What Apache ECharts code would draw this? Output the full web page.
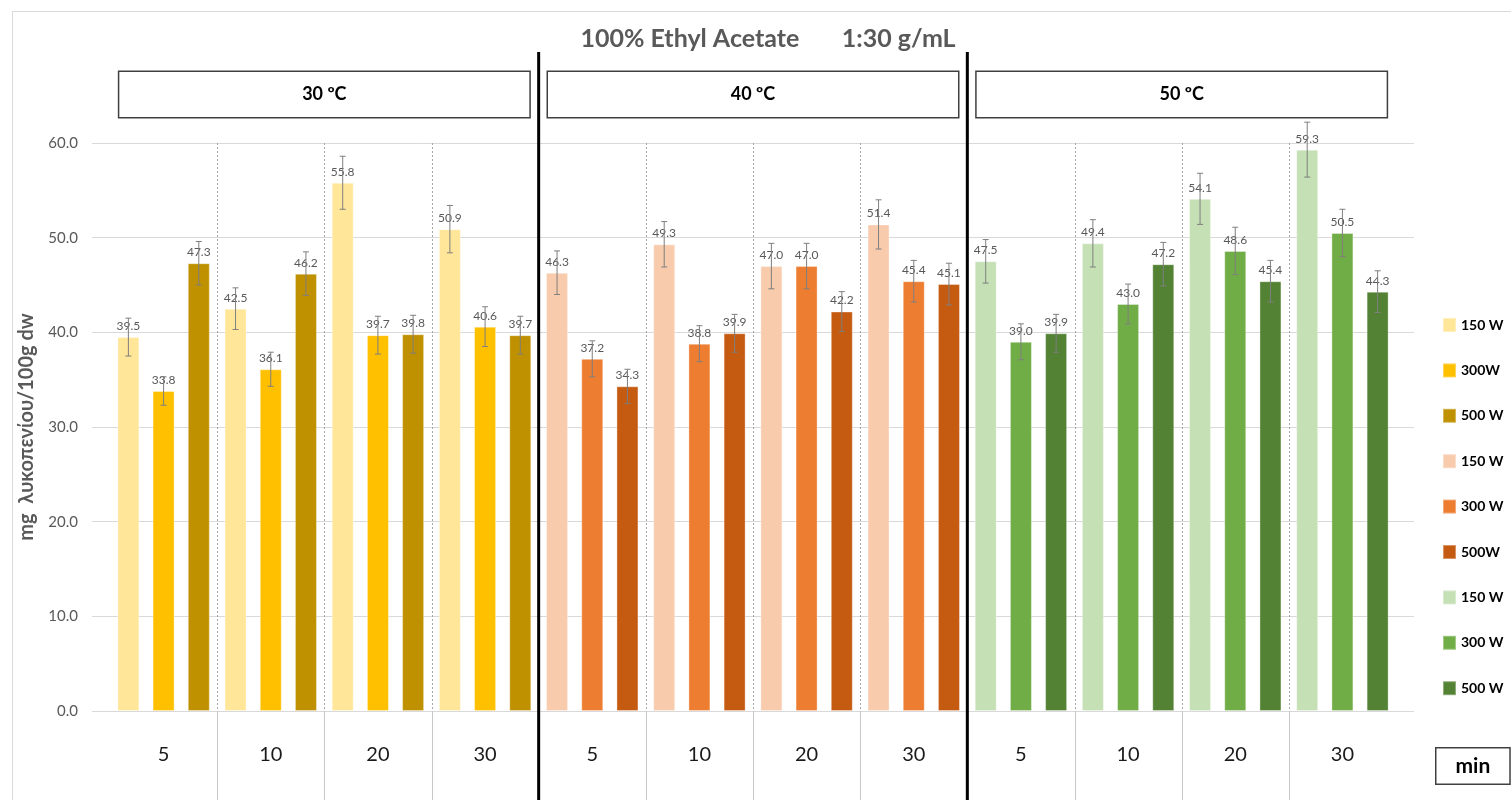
<!DOCTYPE html>
<html>
<head>
<meta charset="utf-8">
<title>100% Ethyl Acetate 1:30 g/mL</title>
<script src="https://cdn.jsdelivr.net/npm/echarts@6/dist/echarts.min.js"></script>
<style>
  html, body { margin: 0; padding: 0; background: #fff; }
  #chart { width: 1511px; height: 800px; }
</style>
</head>
<body>
<div id="chart"></div>
<script>
// Extraction time (min), repeated under each temperature
const minutes = ['5', '10', '20', '30'];
const temperatures = ['30 ºC', '40 ºC', '50 ºC'];
const powers = ['150 W', '300 W', '500 W'];
const legendLabels = ['150 W', '300W', '500 W', '150 W', '300 W', '500W', '150 W', '300 W', '500 W'];

// Lycopene, mg / 100 g dw (values for 5, 10, 20, 30 min)
const t30_150 = [39.5, 42.5, 55.8, 50.9];
const t30_300 = [33.8, 36.1, 39.7, 40.6];
const t30_500 = [47.3, 46.2, 39.8, 39.7];
const t40_150 = [46.3, 49.3, 47.0, 51.4];
const t40_300 = [37.2, 38.8, 47.0, 45.4];
const t40_500 = [34.3, 39.9, 42.2, 45.1];
const t50_150 = [47.5, 49.4, 54.1, 59.3];
const t50_300 = [39.0, 43.0, 48.6, 50.5];
const t50_500 = [39.9, 47.2, 45.4, 44.3];

// Standard deviations
const e30_150 = [2.0, 2.2, 2.8, 2.5];
const e30_300 = [1.5, 1.8, 2.0, 2.1];
const e30_500 = [2.3, 2.3, 2.0, 2.0];
const e40_150 = [2.3, 2.4, 2.4, 2.6];
const e40_300 = [1.9, 1.9, 2.4, 2.2];
const e40_500 = [1.8, 2.0, 2.1, 2.2];
const e50_150 = [2.3, 2.5, 2.7, 2.9];
const e50_300 = [1.9, 2.1, 2.5, 2.5];
const e50_500 = [2.0, 2.3, 2.2, 2.2];

const yTicks = { min: 0, max: 60, interval: 10 };

const palette = [
  ['#FFE699', '#FFC000', '#BF9000'],
  ['#F8CBAD', '#ED7D31', '#C55A11'],
  ['#C5E0B4', '#70AD47', '#548235']
];

const values = [[t30_150, t30_300, t30_500], [t40_150, t40_300, t40_500], [t50_150, t50_300, t50_500]];
const errors = [[e30_150, e30_300, e30_500], [e40_150, e40_300, e40_500], [e50_150, e50_300, e50_500]];

const FONT = 'Lato, "Noto Sans", "DejaVu Sans", sans-serif';
const BAR_W = 22;
const BAR_GAP = 0.6;

const categories = [];
temperatures.forEach(() => minutes.forEach(m => categories.push(m)));
const perTemp = minutes.length;

const seriesNames = [];
const barSeries = [];
const errData = [];
temperatures.forEach((temp, ti) => {
  powers.forEach((pw, pi) => {
    const name = temp + '|' + pw;
    seriesNames.push(name);
    const data = categories.map(() => '-');
    values[ti][pi].forEach((v, k) => {
      data[ti * perTemp + k] = v;
      errData.push([ti * perTemp + k, v, errors[ti][pi][k], pi]);
    });
    barSeries.push({
      name: name,
      type: 'bar',
      xAxisIndex: 1,
      yAxisIndex: 1,
      stack: 'p' + pi,
      barWidth: BAR_W,
      barGap: (BAR_GAP * 100) + '%',
      data: data,
      itemStyle: { color: palette[ti][pi], borderColor: 'rgba(255,255,255,0.35)', borderWidth: 1 },
      label: {
        show: true,
        position: 'top',
        distance: 5,
        fontFamily: FONT,
        fontSize: 12,
        color: '#595959',
        formatter: p => Number(p.value).toFixed(1)
      },
      z: 3
    });
  });
});

const errorSeries = {
  type: 'custom',
  name: 'sd',
  xAxisIndex: 1,
  yAxisIndex: 1,
  data: errData,
  z: 4,
  silent: true,
  renderItem: function (params, api) {
    const idx = api.value(0);
    const v = api.value(1);
    const e = api.value(2);
    const slot = api.value(3);
    const shift = (slot - 1) * BAR_W * (1 + BAR_GAP);
    const hi = api.coord([idx, v + e]);
    const lo = api.coord([idx, v - e]);
    const x = hi[0] + shift;
    const cap = 3;
    const style = { stroke: '#7f7f7f', lineWidth: 1, fill: null };
    return {
      type: 'group',
      children: [
        { type: 'line', shape: { x1: x, y1: hi[1], x2: x, y2: lo[1] }, style: style },
        { type: 'line', shape: { x1: x - cap, y1: hi[1], x2: x + cap, y2: hi[1] }, style: style },
        { type: 'line', shape: { x1: x - cap, y1: lo[1], x2: x + cap, y2: lo[1] }, style: style }
      ]
    };
  }
};

// Boundaries between time groups inside each temperature block
const innerBoundaries = categories.map((c, i) => i).filter(i => i % perTemp !== 0);
// Boundaries between temperature blocks
const blockBoundaries = temperatures.map((t, i) => i).filter(i => i > 0);

// Left edge of a category band
function bandStart(api, idx) {
  return api.coord([idx, 0])[0] - api.size([1, 0])[0] / 2;
}

const innerDividers = {
  type: 'custom',
  name: 'time dividers',
  xAxisIndex: 1,
  yAxisIndex: 1,
  data: innerBoundaries.map(i => [i]),
  silent: true,
  clip: false,
  z: 1,
  renderItem: function (params, api) {
    const cs = params.coordSys;
    const x = Math.round(bandStart(api, api.value(0))) + 0.5;
    const base = cs.y + cs.height;
    return {
      type: 'group',
      children: [
        { type: 'line', shape: { x1: x, y1: cs.y, x2: x, y2: base },
          style: { stroke: '#a6a6a6', lineWidth: 1, lineDash: [2, 2] } },
        { type: 'line', shape: { x1: x, y1: base, x2: x, y2: api.getHeight() },
          style: { stroke: '#c8c8c8', lineWidth: 1 } }
      ]
    };
  }
};

const blockDividers = {
  type: 'custom',
  name: 'temperature dividers',
  xAxisIndex: 2,
  yAxisIndex: 2,
  data: blockBoundaries.map(i => [i]),
  silent: true,
  clip: false,
  z: 5,
  renderItem: function (params, api) {
    const cs = params.coordSys;
    const x = bandStart(api, api.value(0));
    return {
      type: 'line',
      shape: { x1: x, y1: cs.y, x2: x, y2: cs.y + cs.height },
      style: { stroke: '#000', lineWidth: 3 }
    };
  }
};

const option = {
  animation: false,
  backgroundColor: '#fff',
  textStyle: { fontFamily: FONT },
  title: {
    text: '100% Ethyl Acetate       1:30 g/mL',
    left: 763,
    textAlign: 'center',
    top: 21,
    textStyle: { fontFamily: FONT, fontSize: 25, fontWeight: 'bold', color: '#595959' }
  },
  legend: {
    orient: 'vertical',
    left: 1437,
    top: 312,
    icon: 'rect',
    itemWidth: 13,
    itemHeight: 14,
    itemGap: 29.4,
    data: seriesNames,
    formatter: name => legendLabels[seriesNames.indexOf(name)],
    textStyle: { fontFamily: FONT, fontSize: 14, fontWeight: 'bold', color: '#000' },
    selectedMode: false
  },
  grid: [
    { left: 92, right: 97, top: 143, height: 568 },
    { left: 110, right: 115, top: 143, height: 568 },
    { left: 110, right: 115, top: 52, bottom: 0 }
  ],
  xAxis: [
    { type: 'value', gridIndex: 0, show: false, min: 0, max: 1 },
    {
      type: 'category',
      gridIndex: 1,
      data: categories,
      axisLine: { show: false },
      axisTick: { show: false },
      splitLine: { show: false },
      axisLabel: {
        interval: 0,
        margin: 34,
        fontFamily: FONT,
        fontSize: 20,
        color: '#1a1a1a'
      }
    },
    {
      type: 'category',
      gridIndex: 2,
      position: 'top',
      data: temperatures,
      axisLine: { show: false },
      axisTick: { show: false },
      splitLine: { show: false },
      axisLabel: {
        inside: true,
        interval: 0,
        margin: 20,
        fontFamily: FONT,
        fontSize: 18,
        fontWeight: 'bold',
        color: '#000',
        width: 410,
        height: 45,
        lineHeight: 45,
        align: 'center',
        backgroundColor: '#fff',
        borderColor: '#404040',
        borderWidth: 1.5
      }
    }
  ],
  yAxis: [
    {
      type: 'value',
      gridIndex: 0,
      min: yTicks.min,
      max: yTicks.max,
      interval: yTicks.interval,
      name: 'mg  λυκοπενίου/100g dw',
      nameLocation: 'middle',
      nameRotate: 90,
      nameGap: 55,
      nameTextStyle: { fontFamily: FONT, fontSize: 20, fontWeight: 'bold', color: '#595959' },
      axisLine: { show: false },
      axisTick: { show: false },
      splitLine: { lineStyle: { color: '#d9d9d9', width: 1 } },
      axisLabel: {
        margin: 14,
        fontFamily: FONT,
        fontSize: 15,
        color: '#595959',
        formatter: v => v.toFixed(1)
      }
    },
    { type: 'value', gridIndex: 1, show: false, min: yTicks.min, max: yTicks.max, interval: yTicks.interval },
    { type: 'value', gridIndex: 2, show: false, min: 0, max: 1, splitLine: { show: false } }
  ],
  graphic: [
    {
      type: 'rect',
      left: 10,
      top: 9,
      shape: { width: 1600, height: 900 },
      style: { fill: null, stroke: '#d9d9d9', lineWidth: 1 },
      silent: true,
      z: -10
    },
    {
      type: 'text',
      left: 1435,
      top: 747,
      style: {
        text: 'min',
        font: 'bold 21px ' + FONT,
        fill: '#000',
        padding: [5, 19, 5, 19],
        lineHeight: 25,
        backgroundColor: '#fff',
        borderColor: '#404040',
        borderWidth: 1.5
      }
    }
  ],
  series: [innerDividers, blockDividers].concat(barSeries, [errorSeries])
};

const chart = echarts.init(document.getElementById('chart'), null, { renderer: 'canvas' });
chart.setOption(option);
</script>
</body>
</html>
